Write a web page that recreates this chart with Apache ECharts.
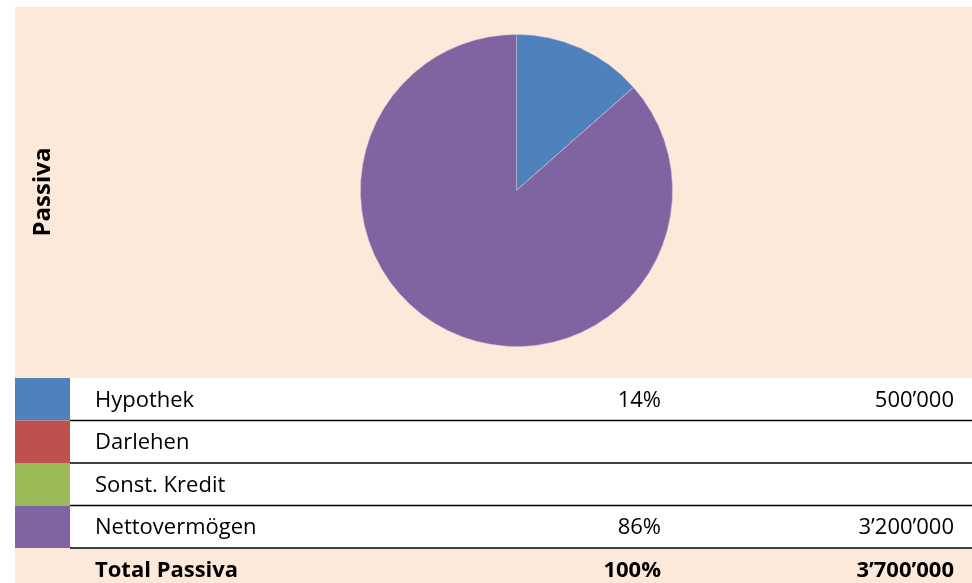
<!DOCTYPE html>
<html>
<head>
<meta charset="utf-8">
<script src="https://cdn.jsdelivr.net/npm/echarts@6/dist/echarts.min.js"></script>
<style>
  html, body { margin: 0; padding: 0; background: #fff; }
  #chart { width: 972px; height: 583px; }
</style>
</head>
<body>
<div id="chart"></div>
<script>
// data
const categories = ["Hypothek", "Darlehen", "Sonst. Kredit", "Nettovermögen"];
const values = [500000, 0, 0, 3200000];
const colors = ["#4F81BD", "#C0504D", "#9BBB59", "#8064A2"];
const totalLabel = "Total Passiva";
const chartTitle = "Passiva";

const FONT = "Open Sans";
const PEACH = "#FDE9D9";
const FS = 22;

const total = values.reduce((a, b) => a + b, 0);

// 3'700'000 style
const fmt = (v) => String(Math.round(v)).replace(/\B(?=(\d{3})+(?!\d))/g, "\u2019");
const pct = (v) => Math.round(v / total * 100) + "%";

const tableTop = 378;
const rowH = 42.5;
const left = 15;
const right = 972;

const graphics = [
  {
    type: "rect",
    z: -10,
    shape: { x: left, y: 7, width: right - left, height: tableTop - 7 },
    style: { fill: PEACH },
  },
  {
    type: "rect",
    z: -10,
    shape: { x: left, y: tableTop + rowH * categories.length, width: right - left, height: rowH },
    style: { fill: PEACH },
  },
  {
    type: "text",
    x: 43,
    y: 192,
    rotation: Math.PI / 2,
    style: {
      text: chartTitle,
      font: "bold 24px '" + FONT + "'",
      fill: "#000",
      align: "center",
      verticalAlign: "middle",
    },
  },
];

categories.forEach((name, i) => {
  const y0 = tableTop + i * rowH;
  const cy = y0 + rowH / 2 + 1;
  graphics.push({
    type: "rect",
    shape: { x: left, y: y0, width: 55, height: rowH },
    style: { fill: colors[i] },
  });
  graphics.push({
    type: "line",
    shape: { x1: 70, y1: y0 + rowH, x2: right, y2: y0 + rowH },
    style: { stroke: "#000", lineWidth: 1.3 },
  });
  graphics.push({
    type: "text",
    x: 95,
    y: cy,
    style: { text: name, font: FS + "px '" + FONT + "'", fill: "#000", verticalAlign: "middle" },
  });
  if (values[i]) {
    graphics.push({
      type: "text",
      x: 661,
      y: cy,
      style: { text: pct(values[i]), font: FS + "px '" + FONT + "'", fill: "#000", align: "right", verticalAlign: "middle" },
    });
    graphics.push({
      type: "text",
      x: 954,
      y: cy,
      style: { text: fmt(values[i]), font: FS + "px '" + FONT + "'", fill: "#000", align: "right", verticalAlign: "middle" },
    });
  }
});

const totalY = tableTop + categories.length * rowH + rowH / 2 + 1;
const boldFont = "bold " + FS + "px '" + FONT + "'";
graphics.push(
  {
    type: "text",
    x: 95,
    y: totalY,
    style: { text: totalLabel, font: boldFont, fill: "#000", verticalAlign: "middle" },
  },
  {
    type: "text",
    x: 661,
    y: totalY,
    style: { text: "100%", font: boldFont, fill: "#000", align: "right", verticalAlign: "middle" },
  },
  {
    type: "text",
    x: 954,
    y: totalY,
    style: { text: fmt(total), font: boldFont, fill: "#000", align: "right", verticalAlign: "middle" },
  }
);

const chart = echarts.init(document.getElementById("chart"));
chart.setOption({
  animation: false,
  backgroundColor: "#fff",
  graphic: graphics,
  series: [
    {
      type: "pie",
      center: [516.5, 190.5],
      radius: 156,
      startAngle: 90,
      clockwise: true,
      label: { show: false },
      labelLine: { show: false },
      itemStyle: { borderColor: "#c9b8d8", borderWidth: 0.5 },
      emphasis: { disabled: true },
      data: categories.map((name, i) => ({
        name,
        value: values[i],
        itemStyle: { color: colors[i] },
      })),
    },
  ],
});
</script>
</body>
</html>
